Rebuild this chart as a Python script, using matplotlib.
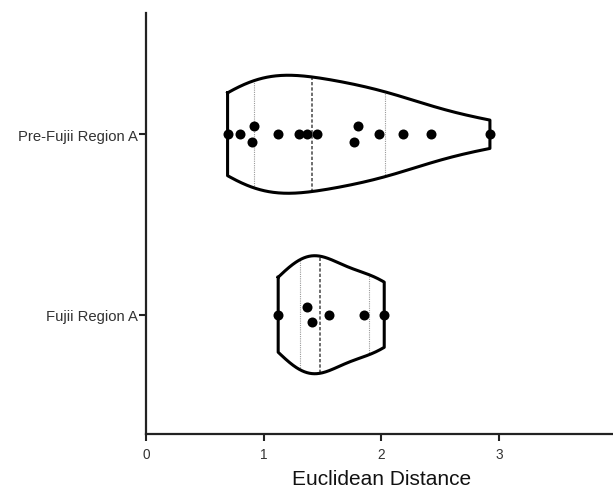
import numpy as np
import matplotlib.pyplot as plt

plt.rcParams['font.family'] = ['Liberation Sans', 'DejaVu Sans']

groups = ["Fujii Region A", "Pre-Fujii Region A"]
# listed so that the first point of a close pair is drawn above the centre line
fujii = [1.124, 1.371, 1.413, 1.552, 1.850, 2.025]
pre_fujii = [0.694, 0.801, 0.921, 0.904, 1.119, 1.297, 1.365, 1.450,
             1.803, 1.767, 1.980, 2.184, 2.424, 2.923]
data = [fujii, pre_fujii]


def kde(vals, grid, bw_scale=1.0):
    v = np.asarray(vals)
    bw = bw_scale * v.std(ddof=1) * len(v) ** (-1 / 5)
    z = (grid[:, None] - v[None, :]) / bw
    return np.exp(-0.5 * z ** 2).sum(axis=1)


def swarm_offsets(vals, thr, step):
    v = np.asarray(vals)
    off = np.zeros(len(v))
    order = np.argsort(v, kind="stable")
    clusters = [[order[0]]]
    for i in order[1:]:
        if v[i] - v[clusters[-1][-1]] < thr:
            clusters[-1].append(i)
        else:
            clusters.append([i])
    for c in clusters:
        c = sorted(c)
        n = len(c)
        for k, idx in enumerate(c):
            off[idx] = ((n - 1) / 2 - k) * step
    return off


fig = plt.figure(figsize=(6.13, 4.89), dpi=100)
ax = fig.add_axes([0.238, 0.1104, 0.768, 0.861])

half = 0.327
for pos, vals in enumerate(data):
    grid = np.linspace(min(vals), max(vals), 300)
    d = kde(vals, grid)
    w = d / d.max() * half
    xs = np.concatenate([grid, grid[::-1], grid[:1]])
    ys = np.concatenate([pos + w, pos - w[::-1], [pos + w[0]]])
    ax.plot(xs, ys, color="black", lw=2.2, zorder=3, solid_joinstyle="round")

    q1, med, q3 = np.percentile(vals, [25, 50, 75], method="weibull")
    for q, ls, col, lw in [(q1, (0, (1, 1)), "#9a9a9a", 0.8),
                           (med, (0, (2, 1.2)), "#555555", 1.2),
                           (q3, (0, (1, 1)), "#9a9a9a", 0.8)]:
        wq = np.interp(q, grid, w)
        ax.plot([q, q], [pos - wq, pos + wq], color=col, lw=lw, ls=ls, zorder=2)

    off = swarm_offsets(vals, 0.055, 0.086)
    ax.scatter(vals, pos + off, s=52, color="black", zorder=4, linewidths=0)

ax.set_xlim(0, 4)
ax.set_ylim(-0.661, 1.672)
ax.set_xticks([0, 1, 2, 3])
ax.set_yticks([0, 1])
ax.set_yticklabels(groups)
ax.set_xlabel("Euclidean Distance", fontsize=15, labelpad=5.5, color="#111111")
ax.tick_params(direction="out", length=5, width=1.5, colors="#222222")
ax.tick_params(axis="x", labelsize=9.8, pad=4.3, labelcolor="#333333")
ax.tick_params(axis="y", labelsize=10.7, pad=1, labelcolor="#333333")
for s in ["top", "right"]:
    ax.spines[s].set_visible(False)
for s in ["left", "bottom"]:
    ax.spines[s].set_linewidth(1.6)
    ax.spines[s].set_color("#222222")

fig.savefig("out.png", dpi=100)
